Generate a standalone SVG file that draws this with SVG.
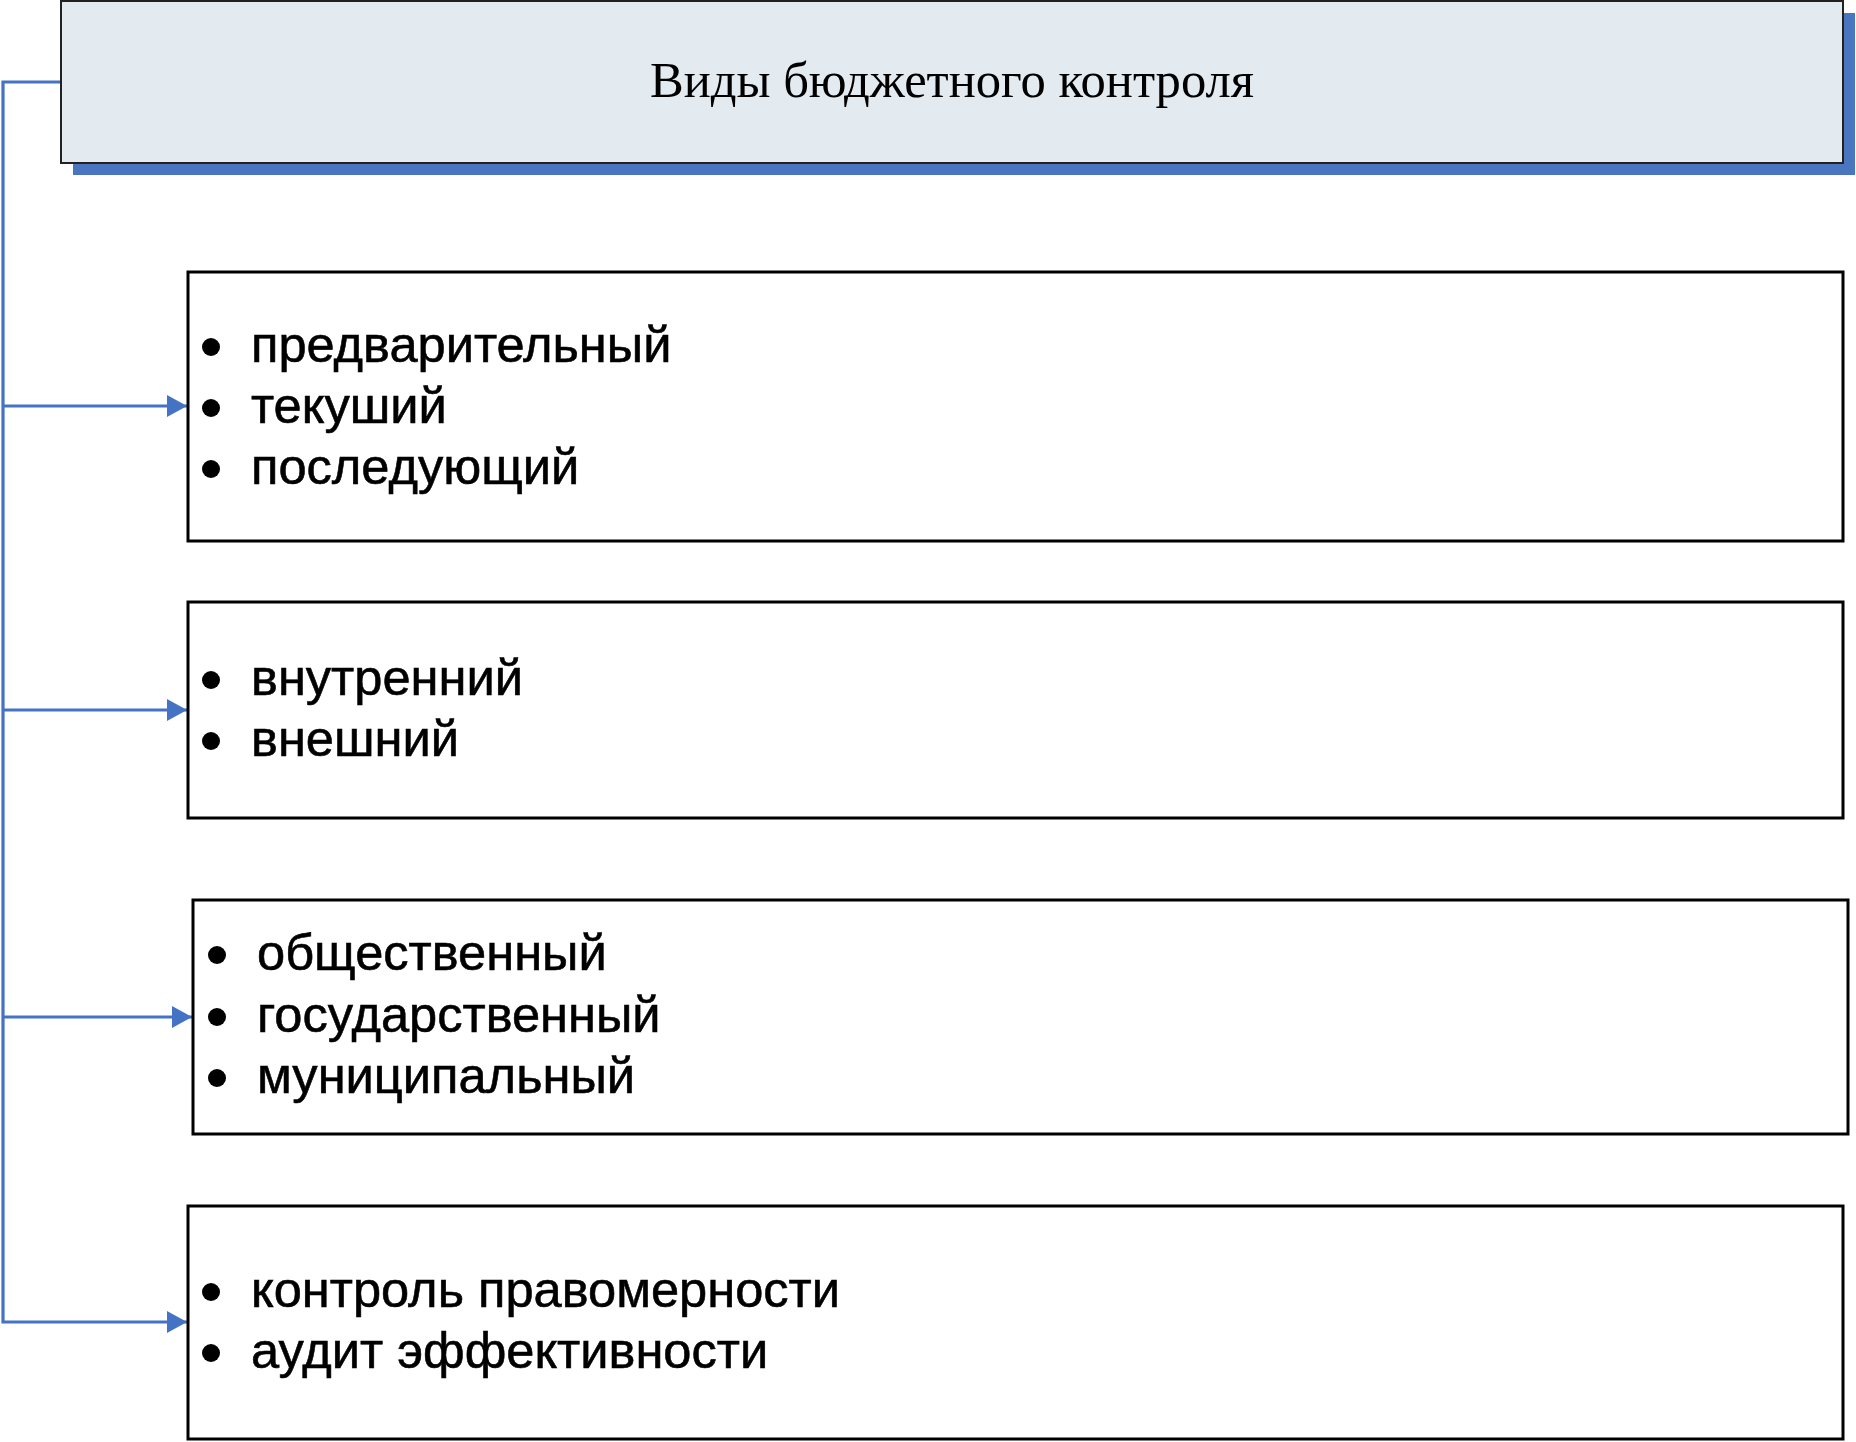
<svg xmlns="http://www.w3.org/2000/svg" width="1856" height="1442" viewBox="0 0 1856 1442">
<style>
.box{fill:#ffffff;stroke:#000000;stroke-width:3}
.item{font-family:"Liberation Sans",Arial,sans-serif;font-size:50.6px;fill:#000000;stroke:#000000;stroke-width:0.6}
.title{font-family:"Liberation Serif","Times New Roman",serif;font-size:50.6px;fill:#000000}
.conn{fill:none;stroke:#4472C4;stroke-width:3.2}
.dot{fill:#000000}
</style>
<defs>
<marker id="arr" markerUnits="userSpaceOnUse" markerWidth="22" markerHeight="24" refX="20" refY="11" orient="auto">
<path d="M0,0 L20,11 L0,22 z" fill="#4472C4"/>
</marker>
</defs>
<rect width="1856" height="1442" fill="#ffffff"/>
<g id="connectors">
<path class="conn" d="M61,82 H3 V1322 H187" marker-end="url(#arr)"/>
<path class="conn" d="M3,406 H187" marker-end="url(#arr)"/>
<path class="conn" d="M3,710 H187" marker-end="url(#arr)"/>
<path class="conn" d="M3,1017 H192" marker-end="url(#arr)"/>
</g>
<g id="title">
<rect x="73" y="13" width="1782" height="162" fill="#4a76c0"/>
<rect x="61" y="1" width="1782" height="162" fill="#e3eaf0" stroke="#222222" stroke-width="2"/>
<text class="title" x="952" y="97" text-anchor="middle">Виды бюджетного контроля</text>
</g>
<g id="box1">
<rect class="box" x="188" y="272" width="1655" height="269"/>
<circle class="dot" cx="211" cy="347" r="9"/>
<text class="item" x="251" y="362">предварительный</text>
<circle class="dot" cx="211" cy="408" r="9"/>
<text class="item" x="251" y="423">текуший</text>
<circle class="dot" cx="211" cy="469" r="9"/>
<text class="item" x="251" y="484">последующий</text>
</g>
<g id="box2">
<rect class="box" x="188" y="602" width="1655" height="216"/>
<circle class="dot" cx="211" cy="680" r="9"/>
<text class="item" x="251" y="695">внутренний</text>
<circle class="dot" cx="211" cy="741" r="9"/>
<text class="item" x="251" y="756">внешний</text>
</g>
<g id="box3">
<rect class="box" x="193" y="900" width="1655" height="234"/>
<circle class="dot" cx="217" cy="955" r="9"/>
<text class="item" x="257" y="970">общественный</text>
<circle class="dot" cx="217" cy="1017" r="9"/>
<text class="item" x="257" y="1032">государственный</text>
<circle class="dot" cx="217" cy="1078" r="9"/>
<text class="item" x="257" y="1093">муниципальный</text>
</g>
<g id="box4">
<rect class="box" x="188" y="1206" width="1655" height="233"/>
<circle class="dot" cx="211" cy="1292" r="9"/>
<text class="item" x="251" y="1307">контроль правомерности</text>
<circle class="dot" cx="211" cy="1353" r="9"/>
<text class="item" x="251" y="1368">аудит эффективности</text>
</g>
</svg>
